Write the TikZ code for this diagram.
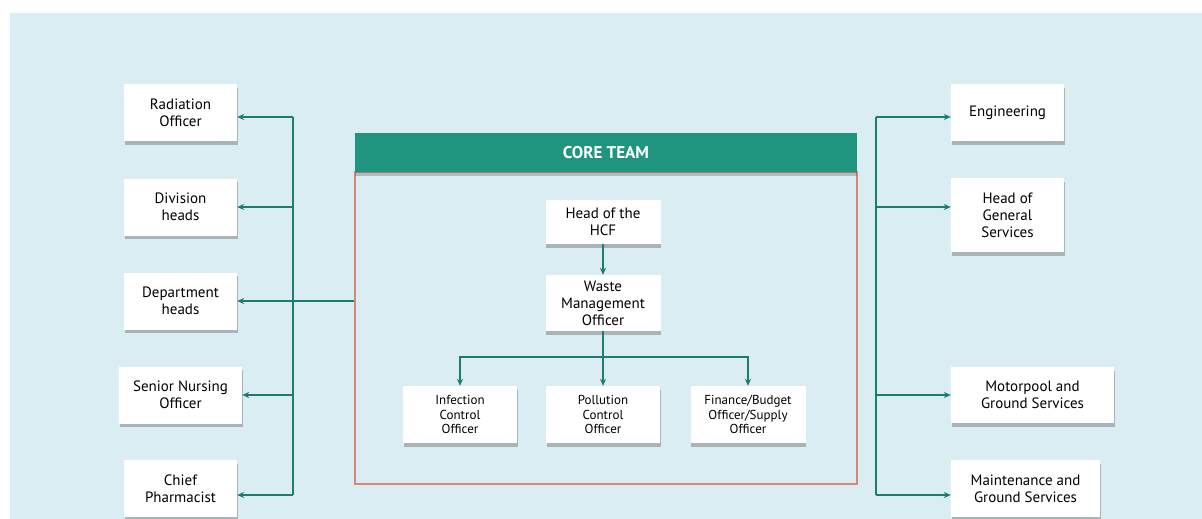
\documentclass[tikz,border=0pt]{standalone}
\usepackage{fontspec}
\setmainfont{PT Sans}
\usetikzlibrary{arrows.meta,shadows}

\definecolor{bgblue}{HTML}{DAEDF3}
\definecolor{coreteal}{HTML}{1F9580}
\definecolor{linkteal}{HTML}{1E7B70}
\definecolor{corered}{HTML}{D88877}

\tikzset{
    rolebox/.style={fill=white, minimum width=113pt, minimum height=57pt, inner sep=2pt,
        align=center, font=\fontsize{15}{17}\selectfont,
        drop shadow={shadow xshift=0.5pt, shadow yshift=-3.5pt, opacity=0.35, fill=black!70}},
    corebox/.style={rolebox, minimum width=114pt, font=\fontsize{13}{14.5}\selectfont},
    link/.style={draw=linkteal, line width=1.6pt, -{Stealth[length=7pt,width=6pt]}},
    busline/.style={draw=linkteal, line width=1.6pt}
}

\begin{document}
\begin{tikzpicture}[x=1pt, y=-1pt]
                \useasboundingbox (0, 0) rectangle (1202, 519);
                \fill[bgblue] (10, 13) rectangle (1202, 519);

                % left column
                \node[rolebox] (radiation) at (180.5, 112.5) {Radiation\\Officer};
                \node[rolebox] (division) at (180.5, 207) {Division\\heads};
                \node[rolebox] (department) at (180.5, 301) {Department\\heads};
                \node[rolebox, minimum width=123pt] (nursing) at (180.5, 395) {Senior Nursing\\Officer};
                \node[rolebox] (pharmacist) at (180.5, 488.5) {Chief\\Pharmacist};

                % right column
                \node[rolebox] (engineering) at (1007.5, 112.5) {Engineering};
                \node[rolebox, minimum height=74pt] (general) at (1007.5, 215) {Head of\\General\\Services};
                \node[rolebox, minimum width=163pt, minimum height=56pt] (motorpool) at (1032.5, 395) {Motorpool and\\Ground Services};
                \node[rolebox, minimum width=149pt] (maintenance) at (1025.5, 488.5) {Maintenance and\\Ground Services};

                % core team
                \node[draw=corered, line width=1.2pt, minimum width=502pt, minimum height=312pt] (coreframe) at (606, 328) {};
                \node[fill=coreteal, text=white, minimum width=502pt, minimum height=39pt,
                    font=\fontsize{17}{19}\selectfont\bfseries,
                    drop shadow={shadow xshift=0pt, shadow yshift=-3.5pt, opacity=0.3, fill=black!70}] (corehead) at (606, 152.5) {CORE TEAM};

                \node[rolebox, minimum width=115pt, minimum height=44pt] (hcf) at (603, 222) {Head of the\\HCF};
                \node[rolebox, minimum width=115pt, minimum height=56pt] (waste) at (603, 303) {Waste\\Management\\Officer};
                \node[corebox] (infection) at (460, 414.5) {Infection\\Control\\Officer};
                \node[corebox] (pollution) at (603, 414.5) {Pollution\\Control\\Officer};
                \node[corebox, minimum width=115pt] (finance) at (748, 414.5) {Finance/Budget\\Officer/Supply\\Officer};

                \coordinate (branch) at (603, 357);
                \coordinate (lbus) at (293, 0);
                \coordinate (rbus) at (876, 0);

                % links inside the core team
                \draw[link] (hcf) -- (waste);
                \draw[link] (waste) -- (pollution);
                \draw[link] (branch) -| (infection.north);
                \draw[link] (branch) -| (finance.north);

                % left bus
                \draw[busline] ([yshift=-4.5pt]lbus |- radiation.east) -- ([yshift=-6.5pt]lbus |- pharmacist.east);
                \draw[link] ([yshift=-4.5pt]lbus |- radiation.east) -- ([yshift=-4.5pt]radiation.east);
                \draw[link] (lbus |- division.east) -- (division.east);
                \draw[link] (lbus |- nursing.east) -- (nursing.east);
                \draw[link] ([yshift=-6.5pt]lbus |- pharmacist.east) -- ([yshift=-6.5pt]pharmacist.east);
                \draw[link] (coreframe.west |- department.east) -- (department.east);

                % right bus
                \draw[busline] ([yshift=-4.5pt]rbus |- engineering.west) -- ([yshift=-6.5pt]rbus |- maintenance.west);
                \draw[link] ([yshift=-4.5pt]rbus |- engineering.west) -- ([yshift=-4.5pt]engineering.west);
                \draw[link] ([yshift=8pt]rbus |- general.west) -- ([yshift=8pt]general.west);
                \draw[link] (rbus |- motorpool.west) -- (motorpool.west);
                \draw[link] ([yshift=-6.5pt]rbus |- maintenance.west) -- ([yshift=-6.5pt]maintenance.west);
            \end{tikzpicture}
\end{document}
